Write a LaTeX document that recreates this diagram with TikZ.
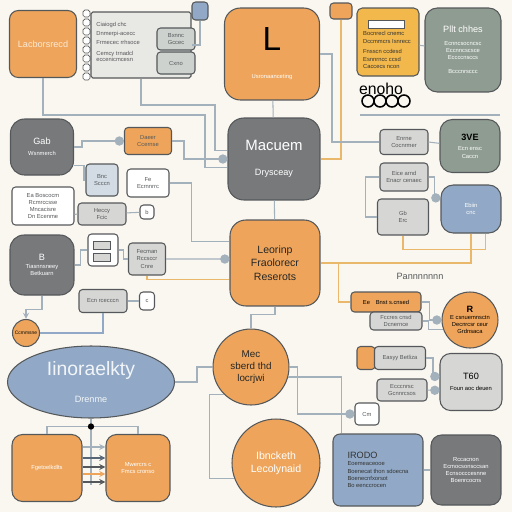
\documentclass[tikz,border=0pt]{standalone}
\usepackage{fontspec}
\setmainfont{Liberation Sans}
\usetikzlibrary{shapes.geometric,arrows}

\definecolor{bgc}{HTML}{FAF7F0}
\definecolor{orng}{HTML}{EEA55B}
\definecolor{ylw}{HTML}{F2B84B}
\definecolor{dgray}{HTML}{77797B}
\definecolor{ggreen}{HTML}{8F9C92}
\definecolor{lgray}{HTML}{D6D6D4}
\definecolor{panel}{HTML}{E8E8E4}
\definecolor{pblue}{HTML}{91A9C6}
\definecolor{lblue}{HTML}{D3DCE4}
\definecolor{bline}{HTML}{55585A}
\definecolor{cline}{HTML}{A3B1BC}
\definecolor{oline}{HTML}{E9B86A}

\newcommand{\tinytext}{\fontsize{3.3}{4.1}\selectfont}
\newcommand{\smalltext}{\fontsize{5.2}{6.4}\selectfont}
\newcommand{\bigtext}{\fontsize{8.5}{10}\selectfont}

\tikzstyle{obox}=[
	draw=bline,
	fill=orng,
	rounded corners=5pt,
	line width=0.6pt,
	align=center,
	inner sep=1pt
]
\tikzstyle{gbox}=[
	draw=bline,
	fill=lgray,
	rounded corners=2pt,
	line width=0.6pt,
	align=center,
	inner sep=1pt,
	font=\tinytext,
	text=bline
]
\tikzstyle{ocirc}=[draw=bline, fill=orng, shape=circle, line width=0.6pt, align=center, inner sep=0pt]
\tikzstyle{conn} = [draw=cline, line width=0.6pt]
\tikzstyle{yconn} = [draw=oline, line width=0.7pt]

\begin{document}
\begin{tikzpicture}[x=0.02cm, y=-0.02cm]

	\tikzstyle{tline}=[font=\tinytext, text=bline, inner sep=0pt, anchor=west]

	\fill[bgc] (0,0) rectangle (512,512);
	\useasboundingbox (0,0) rectangle (512,512);

	% left column
	\node[obox, minimum width=1.34cm, minimum height=1.34cm, font=\smalltext, text=orng!25] (nLac) at (43,44) {Lacborsrecd};
	\node[gbox, fill=panel, rounded corners=1pt, minimum width=2cm, minimum height=1.32cm] (nPanel) at (141,45) {};
	\node[gbox, fill=ggreen!45, minimum width=0.76cm, minimum height=0.44cm] (nPa) at (176,39) {Bxnnc\\Gccec};
	\node[gbox, fill=ggreen!45, minimum width=0.76cm, minimum height=0.44cm] (nPb) at (176,63) {Cxno};
	\node[tline] (nPt1) at (96,25) {Ciaiogd chc};
	\node[tline] (nPt2) at (96,34) {Dnmerpi-acecc};
	\node[tline] (nPt3) at (96,42) {Frmecec rrhsoce};
	\node[tline] (nPt4) at (96,54) {Cemcy trnadcl};
	\node[tline] (nPt5) at (96,59) {eccenicmcesn};
	\node[gbox, fill=pblue, minimum width=0.32cm, minimum height=0.36cm] (nBlueTag) at (200,11) {};
	\foreach \y in {10,19,...,73}
		\draw[bline, line width=0.4pt, fill=white, rounded corners=1pt] (83,\y) rectangle (90,\y+7);

	\node[obox, fill=dgray, minimum width=1.26cm, minimum height=1.12cm, rounded corners=8pt, text=white, font=\tinytext] (nGab) at (42,147) {{\smalltext Gab}\\[2pt]Wsnmerch};
	\node[obox, minimum width=0.94cm, minimum height=0.54cm, rounded corners=2pt, font=\tinytext, text=bline] (nDaeer) at (148,141) {Daeer\\Ccernse};
	\node[gbox, fill=lblue, minimum width=0.64cm, minimum height=0.64cm] (nSmB) at (102,180) {Bnc\\Scccn};
	\node[gbox, fill=white, minimum width=0.84cm, minimum height=0.56cm] (nSmW) at (148,183) {Fe\\Ecrnnrrc};
	\node[gbox, fill=white, minimum width=1.24cm, minimum height=0.76cm] (nLeftList) at (43,206) {Ea Boscocm\\Rcmrccsse\\Mncacisre\\Dn Ecenme};
	\node[gbox, minimum width=0.96cm, minimum height=0.44cm] (nGr1) at (102,214) {Heccy\\Fcic};
	\node[gbox, fill=white, minimum width=0.28cm, minimum height=0.28cm] (nSq1) at (147,212) {b};
	\node[obox, fill=dgray, minimum width=1.28cm, minimum height=1.2cm, rounded corners=8pt, text=white, font=\tinytext] (nB) at (42,265) {{\smalltext B}\\Tiasnnsneey\\Betkuarn};
	\node[gbox, fill=white, minimum width=0.6cm, minimum height=0.64cm] (nIcons) at (103,250) {};
	\draw[bline, line width=0.5pt, fill=lgray] (93,241) rectangle (110,249);
	\draw[bline, line width=0.5pt, fill=lgray] (93,253) rectangle (110,261);
	\node[gbox, minimum width=0.74cm, minimum height=0.64cm] (nGr2) at (147,259) {Fecman\\Rccsccr\\Cnre};
	\node[gbox, minimum width=0.96cm, minimum height=0.46cm] (nGr3) at (103,301) {Ecn rcecccn};
	\node[gbox, fill=white, minimum width=0.3cm, minimum height=0.36cm] (nSq2) at (147,301) {c};
	\node[ocirc, minimum size=0.54cm, font=\fontsize{2.8}{3}\selectfont] (nDot) at (26,333) {Ccmmsne};
	\node[obox, fill=pblue, shape=ellipse, minimum width=3.34cm, minimum height=1.44cm, text=white!88!pblue] (nEll) at (91,382) {{\fontsize{11}{12}\selectfont Iinoraelkty}\\[3pt]{\smalltext Drenme}};
	\node[obox, minimum width=1.4cm, minimum height=1.34cm, rounded corners=6pt, text=white, font=\tinytext] (nFget) at (47,468) {Fgetoelkdlts};
	\node[obox, minimum width=1.28cm, minimum height=1.34cm, rounded corners=6pt, text=white, font=\tinytext] (nMwer) at (138,468) {Mwercrs c\\Fmcs cronso};

	% centre column
	\node[obox, minimum width=1.9cm, minimum height=1.84cm, rounded corners=9pt] (nL) at (272,54) {{\fontsize{19}{19}\selectfont L}\\[4pt]{\tinytext\color{white}Usronaanceting}};
	\node[obox, fill=dgray, minimum width=1.84cm, minimum height=1.64cm, rounded corners=9pt, text=white] (nMac) at (274,159) {{\bigtext Macuem}\\[2pt]{\smalltext Drysceay}};
	\node[obox, minimum width=1.8cm, minimum height=1.72cm, rounded corners=9pt, text=black!85, font=\fontsize{6}{7.6}\selectfont] (nLeo) at (275,263) {Leorinp\\Fraolorecr\\Reserots};
	\node[ocirc, minimum size=1.52cm, text=black!85, font=\fontsize{5.6}{7}\selectfont] (nMec) at (251,367) {Mec\\sberd thd\\locrjwi};
	\node[ocirc, minimum size=1.76cm, text=white, font=\fontsize{6}{7.4}\selectfont] (nIbn) at (276,463) {Ibncketh\\Lecolynaid};

	% right column
	\node[obox, minimum width=0.44cm, minimum height=0.32cm, rounded corners=2pt] (nTagO) at (341,11) {};
	\node[obox, fill=ylw, minimum width=1.24cm, minimum height=1.36cm, rounded corners=3pt] (nYel) at (388,42) {};
	\draw[bline, line width=0.4pt, fill=white] (368,20) rectangle (404,28);
	\node[font=\tinytext, text=black!80, align=left, inner sep=0pt] (nYelTxt) at (387,50) {Bocnrecl cnemc\\Dccmmcrs Isnrecc\\[2pt]Fnsscn ccdesd\\Esnnrncc ccsd\\Caccecs ncon};
	\node[obox, fill=ggreen, minimum width=1.52cm, minimum height=1.68cm, rounded corners=7pt, text=white, font=\tinytext] (nPllt) at (463,50) {{\smalltext Pllt chhes}\\[3pt]Ecnncsocncsc\\Eccnncscsce\\Eccccnsccs\\[4pt]Bcccnrsccc};
	\node[font=\fontsize{9}{9}\selectfont, inner sep=0pt] (nEnoho) at (381,89) {enoho};
	\foreach \x in {368,380,392,404}
		\draw[black, line width=0.9pt] (\x,101) circle (3.4pt);
	\draw[cline, line width=0.8pt] (360,115) -- (500,115);

	\node[gbox, minimum width=0.96cm, minimum height=0.5cm] (nGr4) at (404,142) {Enrne\\Cocnrmer};
	\node[obox, fill=ggreen, minimum width=1.2cm, minimum height=1.06cm, rounded corners=7pt, text=white, font=\tinytext] (n3VE) at (470,146) {{\smalltext\color{black}\bfseries 3VE}\\[2pt]Ecn ensc\\Caccn};
	\node[gbox, minimum width=0.96cm, minimum height=0.56cm] (nGr5) at (404,177) {Eice arnd\\Enacr cenaec};
	\node[obox, fill=pblue, minimum width=1.2cm, minimum height=0.96cm, rounded corners=7pt, text=white, font=\tinytext] (nBlu) at (471,209) {Ebiin\\cnc};
	\node[gbox, minimum width=1.02cm, minimum height=0.72cm] (nGr6) at (403,217) {Gb\\Erc};
	\node[font=\smalltext, text=bline, inner sep=0pt] (nPann) at (420,276) {Pannnnnnn};
	\node[obox, minimum width=1.4cm, minimum height=0.4cm, rounded corners=2pt, font=\tinytext] (nOr1) at (386,302) {Ee\quad Bnst s.cnsed};
	\node[gbox, minimum width=1.04cm, minimum height=0.36cm] (nGr7) at (396,321) {Fccres cnsd\\Dcnernce};
	\node[ocirc, minimum size=1.12cm, font=\tinytext] (nOcirc) at (470,320) {{\smalltext\bfseries R}\\E csnuemnsctn\\Decnrcsr ceur\\Grdnsaca};
	\node[obox, minimum width=0.36cm, minimum height=0.46cm, rounded corners=2pt] (nOr2t) at (366,358) {};
	\node[gbox, minimum width=1.02cm, minimum height=0.46cm] (nOr2) at (400,358) {Easyy Betliza};
	\node[gbox, minimum width=1.0cm, minimum height=0.44cm] (nGr8) at (402,390) {Ecccnrsc\\Gcnnrcsos};
	\node[obox, fill=lgray, minimum width=1.24cm, minimum height=1.14cm, rounded corners=6pt, font=\tinytext] (nT60) at (471,382) {{\smalltext T60}\\[2pt]Foun aoc deuen};
	\node[gbox, fill=white, minimum width=0.48cm, minimum height=0.44cm] (nSm3) at (367,414) {Cm};
	\node[obox, fill=pblue, minimum width=1.8cm, minimum height=1.44cm, rounded corners=4pt, font=\tinytext, text=black!80, align=left] (nIrodo) at (378,470) {{\smalltext IRODO}\\Eoemeaceooe\\Boenecat thon sdoecna\\Boenecnfxorsot\\Bo eenccrocen};
	\node[obox, fill=dgray, minimum width=1.4cm, minimum height=1.4cm, rounded corners=6pt, text=white, font=\tinytext] (nDark) at (466,470) {Rccacnon\\Ecmocsonsccsan\\Ecnsocccesnne\\Boenrcocns};

	% connectors
	\path[conn]
	(nL) edge node {} (nMac)
	(nMac) edge node {} (nLeo)
	(nYel) edge node {} (nPllt)
	(nGr1) edge node {} (nSq1)
	(nGr3) edge node {} (nSq2)
	(nLeftList.-15) edge node {} (nGr1.west)
	(nGr4.east) edge node {} (n3VE.175)
	(nIrodo) edge node {} (nDark);

	\draw[conn] (nPanel.south) |- (215,105) |- (nMac.170);
	\draw[conn] (nLac.south) |- (205,115) |- (nMac.190);
	\draw[conn] (nBlueTag.south) |- (nPanel.east);
	\draw[conn, -*] (nGab.east) -- ++(8,0) |- (nDaeer.west);
	\draw[conn] (nGab.330) -- ++(10,0) |- (nSmB.west);
	\draw[conn, -*] (nDaeer.east) -- ++(12,0) |- (nMac.west);
	\draw[conn] (nSmW.east) -- ++(22,0) |- (nLeo.155);
	\draw[conn, -*] (nGr2.east) -- (nLeo.175);
	\draw[yconn] (nGr2.south) |- (nLeo.200);
	\draw[conn] (nIcons.east) -- ++(5,0) |- (nGr2.west);
	\draw[conn] (nB.east) -- ++(6,0) |- (nIcons.west);
	\draw[conn, -stealth] (nB.south) -- ++(0,14) -| (nDot.north);
	\draw[conn, draw=pblue] (nDot.east) -| (nGr3.south);
	\draw[conn] (nEll.east) -- ++(22,0) |- (nMec.west);
	\draw[conn] (nEll.south) -- ++(0,8) coordinate (jE) -| (nFget.north);
	\draw[conn] (jE) -| (nMwer.north);
	\draw[conn] (jE) -- ++(0,58);
	\fill[black] (jE) circle (1.8pt);
	\foreach \y/\c in {447/cline, 458/pblue!60!black, 467/bline, 474/orng, 482/bline}
		\draw[line width=0.6pt, draw=\c, -stealth] (nFget.east |- 0,\y) -- (nMwer.west |- 0,\y);
	\draw[conn] (nLeo.south) -- ++(0,8) -| (nMec.north);
	\draw[conn] (nMec.225) -- ++(-14,0) |- (nIbn.200);

	\draw[yconn] (nMac.east) -| (nTagO.south);
	\draw[conn] (nL.east) -- ++(12,0) |- (nGr4.west);
	\draw[conn] (nGr5.west) -- ++(-14,0) |- (nGr6.west);
	\draw[conn, -*] (nGr5.east) -- ++(6,0) |- (nBlu.160);
	\draw[yconn] (nBlu.south) |- (nLeo.east);
	\draw[yconn] (nGr6.south) -- ++(0,14) -| (nBlu.300);
	\draw[yconn] (nOr1.west) -- ++(-12,0) |- (nLeo.east);
	\draw[conn, -*] (nOr1.east) -- ++(8,0) |- (nOcirc.west);
	\draw[conn] (nGr7.east) -- ++(6,0) |- (nOcirc.200);
	\draw[conn, -*] (nOr2.east) -- ++(7,0) |- (nT60.170);
	\draw[conn, -*] (nGr8.east) -- (nT60.195);
	\draw[conn, -*] (nMec.east) -- ++(8,0) |- (nSm3.west);
	\draw[conn] (nMec.345) -| (nIrodo.135);

\end{tikzpicture}
\end{document}
